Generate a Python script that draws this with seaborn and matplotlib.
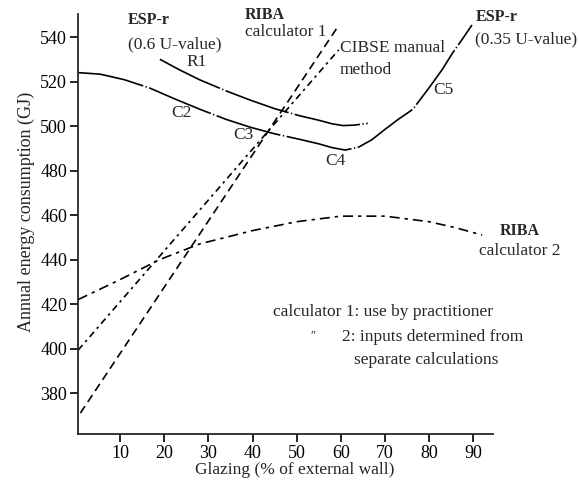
import matplotlib
matplotlib.use("Agg")
import matplotlib.pyplot as plt
import seaborn as sns
import pandas as pd

# ---- data ----
esp035_x = [0.5, 5.5, 11, 16.8, 22, 28.1, 34, 39.4, 45, 50.7, 55, 58, 61, 64, 67, 70, 73, 76.3, 80.1, 83, 85.3, 87.5, 89.7]
esp035_y = [524, 523.3, 520.8, 517, 512.5, 507.5, 503, 499.5, 496.5, 494, 492, 490.3, 489.2, 490.5, 493.8, 498.5, 503, 507.5, 517.5, 525.5, 532.8, 539, 545.4]

esp06_x = [19, 23.5, 28.1, 34, 39.4, 45, 50.7, 55, 58, 60.5, 63, 66.1]
esp06_y = [530, 525.2, 520.7, 515.8, 511.7, 507.8, 504.6, 502.6, 501, 500.2, 500.4, 501.2]

riba1_x = [1, 59.1]
riba1_y = [371, 544]

cibse_x = [0.5, 59.5]
cibse_y = [399.3, 534.2]

riba2_x = [0.5, 10, 19, 28, 40, 50, 60, 70, 80, 86, 92]
riba2_y = [422, 431, 440, 447, 453, 457, 459.5, 459.5, 457, 454.3, 451]

x_ticks = [10, 20, 30, 40, 50, 60, 70, 80, 90]
y_ticks = [380, 400, 420, 440, 460, 480, 500, 520, 540]

sns.set_style("ticks")
plt.rcParams["font.family"] = ["Liberation Serif", "DejaVu Serif"]

fig = plt.figure(figsize=(5.79, 4.86), dpi=100)
ax = fig.add_axes([0.135, 0.107, 0.716, 0.864])

series = [
    (esp035_x, esp035_y, (0, (40, 1.5, 0.8, 1.5))),
    (esp06_x, esp06_y, (0, (40, 1.5, 0.8, 1.5))),
    (riba1_x, riba1_y, (0, (5, 3))),
    (cibse_x, cibse_y, (0, (4, 2.5, 1.5, 2.5))),
    (riba2_x, riba2_y, (0, (6, 3, 2, 3))),
]
for xs, ys, ls in series:
    df = pd.DataFrame({"x": xs, "y": ys})
    sns.lineplot(data=df, x="x", y="y", sort=False, ax=ax, color="black",
                 linewidth=1.2, linestyle=ls, estimator=None)

ax.set_xlim(0.5, 94.4)
ax.set_ylim(361.6, 550.3)
ax.set_xticks(x_ticks)
ax.set_yticks(y_ticks)
sns.despine(ax=ax)
ax.spines["left"].set_linewidth(1.3)
ax.spines["bottom"].set_linewidth(1.3)
ax.tick_params(labelsize=13, width=1.2, length=6, pad=2, colors="black")
ax.set_xlabel("Glazing (% of external wall)", fontsize=12.5)
ax.set_ylabel("Annual energy consumption (GJ)", fontsize=13)
ax.xaxis.set_label_coords(0.523, -0.066)
ax.yaxis.set_label_coords(-0.105, 0.53)


def t(x, y, s, size=12.5, **kw):
    ax.text(x, y, s, fontsize=size, va="center", clip_on=False, **kw)

t(11.8, 547.6, "ESP-r", size=11.5, fontweight="bold")
t(11.8, 536.6, "(0.6 U-value)")
t(27.4, 528.8, "R1", ha="center")
t(24, 505.8, "C2", ha="center")
t(37.9, 496, "C3", ha="center")
t(58.7, 484.5, "C4", ha="center")
t(83.3, 516.2, "C5", ha="center")
t(38.2, 549.9, "RIBA", size=11.5, fontweight="bold")
t(38.2, 542.3, "calculator 1")
t(59.8, 535, "CIBSE manual")
t(59.8, 525.3, "method")
t(90.6, 549.2, "ESP-r", size=11.5, fontweight="bold")
t(90.3, 538.9, "(0.35 U-value)")
t(100.5, 452.8, "RIBA", size=11.5, fontweight="bold", ha="center")
t(100.5, 444.0, "calculator 2", ha="center")
t(44.6, 416.4, "calculator 1: use by practitioner")
t(53, 405.6, "\u2033", size=9)
t(60.2, 405.2, "2: inputs determined from")
t(79.4, 394.8, "separate calculations", ha="center")

fig.savefig("out.png", dpi=100)
